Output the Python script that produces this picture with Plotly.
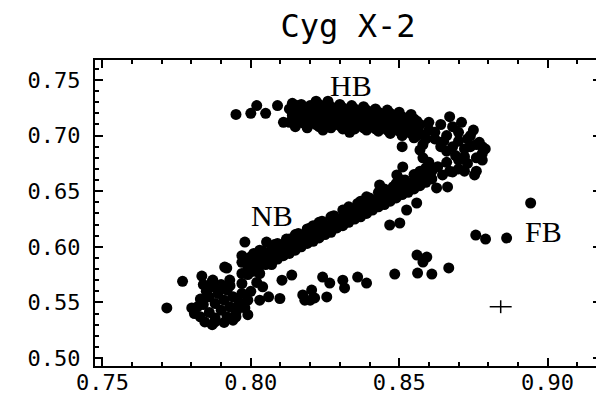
import plotly.graph_objects as go

# ---- data (colour-colour values) ----
hb_x = [0.795, 0.800, 0.802, 0.805, 0.809, 0.811, 0.814, 0.8155,
        0.813, 0.813, 0.815, 0.815, 0.817, 0.817, 0.817, 0.819, 0.819,
        0.821, 0.821, 0.823, 0.823, 0.823, 0.825, 0.825, 0.827, 0.827, 0.827,
        0.829, 0.829, 0.831, 0.831, 0.831, 0.833, 0.833, 0.835, 0.835, 0.835,
        0.837, 0.837, 0.839, 0.839, 0.839, 0.841, 0.841, 0.843, 0.843, 0.843,
        0.845, 0.845, 0.847, 0.847, 0.847, 0.849, 0.849, 0.851, 0.851, 0.851,
        0.853, 0.853, 0.855, 0.855, 0.855, 0.857, 0.857,
        0.822, 0.826, 0.8243, 0.8333, 0.851,
        0.814, 0.814, 0.816, 0.816, 0.818, 0.818, 0.820, 0.820, 0.822, 0.822,
        0.824, 0.824, 0.826, 0.826, 0.828, 0.828, 0.830, 0.830, 0.830, 0.832, 0.832,
        0.834, 0.834, 0.834, 0.836, 0.836, 0.838, 0.838, 0.838, 0.840, 0.840,
        0.842, 0.842, 0.842, 0.844, 0.844, 0.846, 0.846, 0.846, 0.848, 0.848,
        0.850, 0.850, 0.850, 0.852, 0.852, 0.854, 0.854, 0.854, 0.856, 0.856]
hb_y = [0.719, 0.720, 0.727, 0.720, 0.727, 0.712, 0.720, 0.727,
        0.712, 0.724, 0.717, 0.708, 0.722, 0.712, 0.728, 0.716, 0.707,
        0.723, 0.713, 0.718, 0.728, 0.708, 0.713, 0.722, 0.717, 0.726, 0.707,
        0.712, 0.721, 0.716, 0.725, 0.706, 0.711, 0.720, 0.715, 0.724, 0.706,
        0.710, 0.719, 0.714, 0.723, 0.705, 0.709, 0.718, 0.713, 0.721, 0.704,
        0.708, 0.716, 0.711, 0.720, 0.702, 0.706, 0.714, 0.709, 0.717, 0.700,
        0.704, 0.712, 0.707, 0.715, 0.698, 0.702, 0.710,
        0.731, 0.731, 0.705, 0.703, 0.690,
        0.718, 0.729, 0.713, 0.724, 0.720, 0.711, 0.717, 0.727, 0.710, 0.721,
        0.725, 0.716, 0.710, 0.719, 0.714, 0.723, 0.709, 0.719, 0.728, 0.713, 0.722,
        0.708, 0.718, 0.727, 0.712, 0.721, 0.707, 0.716, 0.726, 0.711, 0.720,
        0.706, 0.716, 0.724, 0.711, 0.719, 0.705, 0.714, 0.723, 0.709, 0.717,
        0.704, 0.712, 0.721, 0.707, 0.715, 0.702, 0.710, 0.719, 0.705, 0.713]

apex_x = [0.856, 0.858, 0.860, 0.862, 0.864, 0.866, 0.868, 0.870, 0.872, 0.874,
          0.876, 0.878, 0.877, 0.875, 0.871, 0.867, 0.864, 0.869, 0.866, 0.873,
          0.876, 0.878, 0.8754, 0.870, 0.863, 0.858, 0.857, 0.866, 0.872, 0.879,
          0.873, 0.860, 0.868, 0.870, 0.874, 0.876, 0.872, 0.867, 0.860, 0.865,
          0.878, 0.870, 0.862, 0.859]
apex_y = [0.700, 0.692, 0.705, 0.697, 0.690, 0.700, 0.708, 0.695, 0.688, 0.700,
          0.692, 0.684, 0.694, 0.705, 0.712, 0.717, 0.710, 0.682, 0.676, 0.675,
          0.668, 0.678, 0.6646, 0.670, 0.672, 0.680, 0.687, 0.686, 0.681, 0.688,
          0.697, 0.712, 0.690, 0.703, 0.690, 0.680, 0.668, 0.668, 0.676, 0.695,
          0.690, 0.678, 0.703, 0.697]

nb_x = [0.797, 0.797, 0.797, 0.799, 0.799, 0.801, 0.801, 0.801, 0.803, 0.803, 0.803,
        0.805, 0.805, 0.807, 0.807, 0.807, 0.809, 0.809, 0.809, 0.811, 0.811,
        0.813, 0.813, 0.813, 0.815, 0.815, 0.815, 0.817, 0.817, 0.819, 0.819, 0.819,
        0.821, 0.821, 0.821, 0.823, 0.823, 0.823, 0.825, 0.825, 0.827, 0.827, 0.827,
        0.829, 0.829, 0.831, 0.831, 0.831, 0.833, 0.833, 0.833, 0.835, 0.835,
        0.837, 0.837, 0.837, 0.839, 0.839, 0.839, 0.841, 0.841, 0.843, 0.843, 0.843,
        0.845, 0.845, 0.845, 0.847, 0.847, 0.849, 0.849, 0.849, 0.851, 0.851, 0.851,
        0.853, 0.853, 0.855, 0.855, 0.855, 0.857, 0.857, 0.857, 0.859, 0.859, 0.859,
        0.861, 0.861,
        0.8434, 0.8512, 0.8492, 0.8559, 0.8525, 0.8468, 0.8502, 0.8663, 0.8626,
        0.8646, 0.868, 0.798, 0.8053, 0.8064, 0.8108, 0.8131,
        0.800, 0.800, 0.804, 0.804, 0.808, 0.808, 0.812, 0.812, 0.816, 0.816,
        0.820, 0.820, 0.824, 0.824, 0.828, 0.828, 0.832, 0.832, 0.836, 0.836,
        0.840, 0.840, 0.844, 0.844, 0.848, 0.848, 0.852, 0.852, 0.856, 0.856,
        0.860, 0.860]
nb_y = [0.576, 0.586, 0.592, 0.580, 0.589, 0.578, 0.585, 0.594, 0.583, 0.590, 0.597,
        0.586, 0.593, 0.584, 0.591, 0.598, 0.589, 0.596, 0.603, 0.592, 0.600,
        0.594, 0.601, 0.607, 0.597, 0.604, 0.611, 0.600, 0.608, 0.603, 0.610, 0.616,
        0.605, 0.612, 0.619, 0.608, 0.615, 0.622, 0.611, 0.618, 0.613, 0.620, 0.627,
        0.617, 0.624, 0.619, 0.626, 0.633, 0.622, 0.629, 0.636, 0.625, 0.632,
        0.627, 0.634, 0.641, 0.630, 0.638, 0.645, 0.633, 0.640, 0.636, 0.643, 0.649,
        0.638, 0.645, 0.652, 0.641, 0.648, 0.644, 0.651, 0.657, 0.647, 0.654, 0.660,
        0.649, 0.656, 0.652, 0.659, 0.665, 0.655, 0.662, 0.668, 0.658, 0.665, 0.671,
        0.661, 0.668,
        0.6556, 0.6718, 0.6646, 0.6394, 0.6331, 0.6196, 0.6214, 0.6538, 0.6529,
        0.6646, 0.6673, 0.6043, 0.6043, 0.5944, 0.6016, 0.5971,
        0.583, 0.591, 0.588, 0.596, 0.594, 0.602, 0.599, 0.607, 0.604, 0.612,
        0.609, 0.617, 0.615, 0.623, 0.620, 0.628, 0.625, 0.633, 0.631, 0.639,
        0.636, 0.644, 0.641, 0.649, 0.646, 0.654, 0.652, 0.660, 0.657, 0.665,
        0.662, 0.670]

low_x = [0.784, 0.786, 0.786, 0.788, 0.788, 0.789, 0.790, 0.791, 0.792, 0.792,
         0.793, 0.794, 0.795, 0.796, 0.797, 0.785, 0.787, 0.790, 0.783, 0.782,
         0.794, 0.798, 0.799,
         0.7717, 0.777, 0.7835, 0.7801, 0.7869, 0.7845, 0.7879, 0.7912, 0.7929,
         0.7919, 0.7872, 0.804, 0.803, 0.8098, 0.806, 0.799, 0.795, 0.8105, 0.8138,
         0.799, 0.801, 0.803, 0.805, 0.800,
         0.781, 0.783, 0.787, 0.791, 0.796, 0.789, 0.793, 0.797, 0.800, 0.802, 0.784]
low_y = [0.548, 0.541, 0.555, 0.536, 0.549, 0.558, 0.543, 0.552, 0.537, 0.561,
         0.546, 0.555, 0.541, 0.550, 0.558, 0.560, 0.564, 0.566, 0.553, 0.546,
         0.534, 0.545, 0.552,
         0.545, 0.569, 0.5737, 0.545, 0.5683, 0.5324, 0.5324, 0.5818, 0.5701,
         0.5809, 0.5701, 0.564, 0.552, 0.5535, 0.555, 0.539, 0.537, 0.570, 0.5746,
         0.575, 0.581, 0.576, 0.584, 0.588,
         0.540, 0.537, 0.530, 0.532, 0.545, 0.562, 0.565, 0.567, 0.560, 0.568, 0.566]

side_x = [0.8175, 0.8205, 0.8242, 0.8266, 0.8256, 0.831, 0.8316, 0.836, 0.839,
          0.8485, 0.856, 0.858, 0.8562, 0.861, 0.8667, 0.8182, 0.8215, 0.820,
          0.8593]
side_y = [0.5567, 0.5611, 0.5728, 0.5674, 0.5549, 0.570, 0.563, 0.5728, 0.5674,
          0.5755, 0.5926, 0.5863, 0.5764, 0.5755, 0.581, 0.552, 0.554, 0.552,
          0.5908]

fb_x = [0.8758, 0.8791, 0.8862, 0.8943]
fb_y = [0.6106, 0.607, 0.6079, 0.6394]

err_x, err_y = [0.8842], [0.5461]
err_dx, err_dy = [0.0037], [0.0058]

labels = ["HB", "NB", "FB"]
label_x = [0.8336, 0.8073, 0.8986]
label_y = [0.745, 0.6283, 0.6138]

x_ticks = [0.75, 0.80, 0.85, 0.90]
y_ticks = [0.50, 0.55, 0.60, 0.65, 0.70, 0.75]

# ---- figure ----
fig = go.Figure()
all_x = hb_x + apex_x + nb_x + low_x + side_x + fb_x
all_y = hb_y + apex_y + nb_y + low_y + side_y + fb_y
fig.add_trace(go.Scatter(x=all_x, y=all_y, mode="markers",
                         marker=dict(size=11, color="black", line=dict(width=0)),
                         hoverinfo="skip", showlegend=False))
fig.add_trace(go.Scatter(x=err_x, y=err_y, mode="lines",
                         error_x=dict(type="data", array=err_dx, width=0, thickness=1.5, color="black"),
                         error_y=dict(type="data", array=err_dy, width=0, thickness=1.5, color="black"),
                         line=dict(color="black"), showlegend=False, hoverinfo="skip"))

for t, lx, ly in zip(labels, label_x, label_y):
    fig.add_annotation(x=lx, y=ly, text=t, showarrow=False,
                       font=dict(family="Liberation Serif", size=30, color="black"))

axis_common = dict(showgrid=False, zeroline=False, showline=True, linecolor="black",
                   linewidth=2, mirror="ticks", ticks="inside", ticklen=8, tickwidth=2,
                   tickcolor="black", tickformat=".2f", automargin=False,
                   tickfont=dict(family="DejaVu Sans Mono", size=22, color="black"))
fig.update_xaxes(range=[0.7475, 0.918], tickvals=x_ticks,
                 minor=dict(dtick=0.01, tick0=0.75, ticks="inside", ticklen=4, tickwidth=1.5,
                            tickcolor="black"),
                 ticklabelstandoff=-4, **axis_common)
fig.update_yaxes(range=[0.4928, 0.768], tickvals=y_ticks,
                 minor=dict(dtick=0.01, tick0=0.50, ticks="inside", ticklen=4, tickwidth=1.5,
                            tickcolor="black"),
                 ticklabelstandoff=8, **axis_common)

# the page adds an 8 px body margin, so the figure is 8 px smaller each way
fig.update_layout(width=596, height=390, margin=dict(l=87, r=3, t=52, b=32),
                  paper_bgcolor="white", plot_bgcolor="white",
                  title=dict(text="Cyg X-2", x=0.5, xref="paper", y=1 - 18 / 390,
                             yref="container", yanchor="middle", xanchor="center",
                             font=dict(family="DejaVu Sans Mono", size=32, color="black")))

fig.write_html("out.html")
